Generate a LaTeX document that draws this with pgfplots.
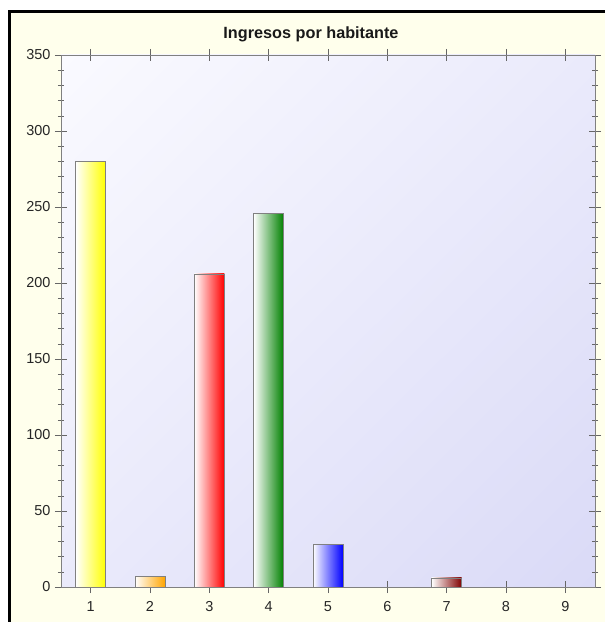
\documentclass[border=0pt]{standalone}
\usepackage{pgfplots}
\pgfplotsset{compat=1.18}
\usetikzlibrary{shadings}
\usepackage{fontspec}
\setmainfont{Liberation Sans}
\definecolor{cream}{RGB}{255,255,236}
\definecolor{bgA}{RGB}{250,250,255}
\definecolor{bgB}{RGB}{234,234,251}
\definecolor{bgC}{RGB}{218,218,247}
\definecolor{cYellow}{RGB}{255,255,0}
\definecolor{cOrange}{RGB}{255,165,0}
\definecolor{cRed}{RGB}{255,0,0}
\definecolor{cGreen}{RGB}{0,128,0}
\definecolor{cBlue}{RGB}{0,0,255}
\definecolor{cMaroon}{RGB}{128,0,0}
\pgfplotsset{
  mybar/.style={ybar, bar width=30bp, bar shift=0pt, draw=gray, left color=white, right color=#1},
}
\begin{document}
\begin{tikzpicture}
\useasboundingbox (0,0) rectangle (605bp,622bp);
\fill[white] (0,0) rectangle (605bp,622bp);
\begin{scope}
  \clip (0,0) rectangle (605bp,622bp);
  \draw[line width=3bp, fill=cream] (9.7bp,-20bp) rectangle (630bp,610.5bp);
\end{scope}
\begin{axis}[
  at={(61bp,35bp)}, anchor=south west,
  scale only axis, width=534bp, height=532bp,
  xmin=0.5, xmax=9.5, ymin=0, ymax=350,
  xtick={1,2,3,4,5,6,7,8,9},
  ytick={0,50,100,150,200,250,300,350},
  minor y tick num=4,
  tick align=center,
  major tick length=12bp, minor tick length=6bp,
  axis line style={gray},
  every tick/.style={gray!80!black},
  axis background/.style={shade, upper left=bgA, upper right=bgB, lower left=bgB, lower right=bgC},
  tick label style={font=\fontsize{14.5}{17}\selectfont, text=black!85},
  /pgf/number format/assume math mode=true,
  xticklabel style={yshift=-5bp},
  yticklabel style={xshift=-1bp},
]
\addplot[mybar=cYellow] coordinates {(1,280)};
\addplot[mybar=cOrange] coordinates {(2,7)};
\addplot[mybar=cRed] coordinates {(3,206)};
\addplot[mybar=cGreen] coordinates {(4,246)};
\addplot[mybar=cBlue] coordinates {(5,28)};
\addplot[mybar=cMaroon] coordinates {(7,6)};
\addplot[ybar, bar width=30bp, bar shift=0pt, draw=none, fill=none] coordinates {(6,0) (8,0) (9,0)};
\end{axis}
\node[font=\fontsize{16.3}{19}\selectfont\bfseries, text=black!90] at (311bp,588bp) {Ingresos por habitante};
\end{tikzpicture}
\end{document}
